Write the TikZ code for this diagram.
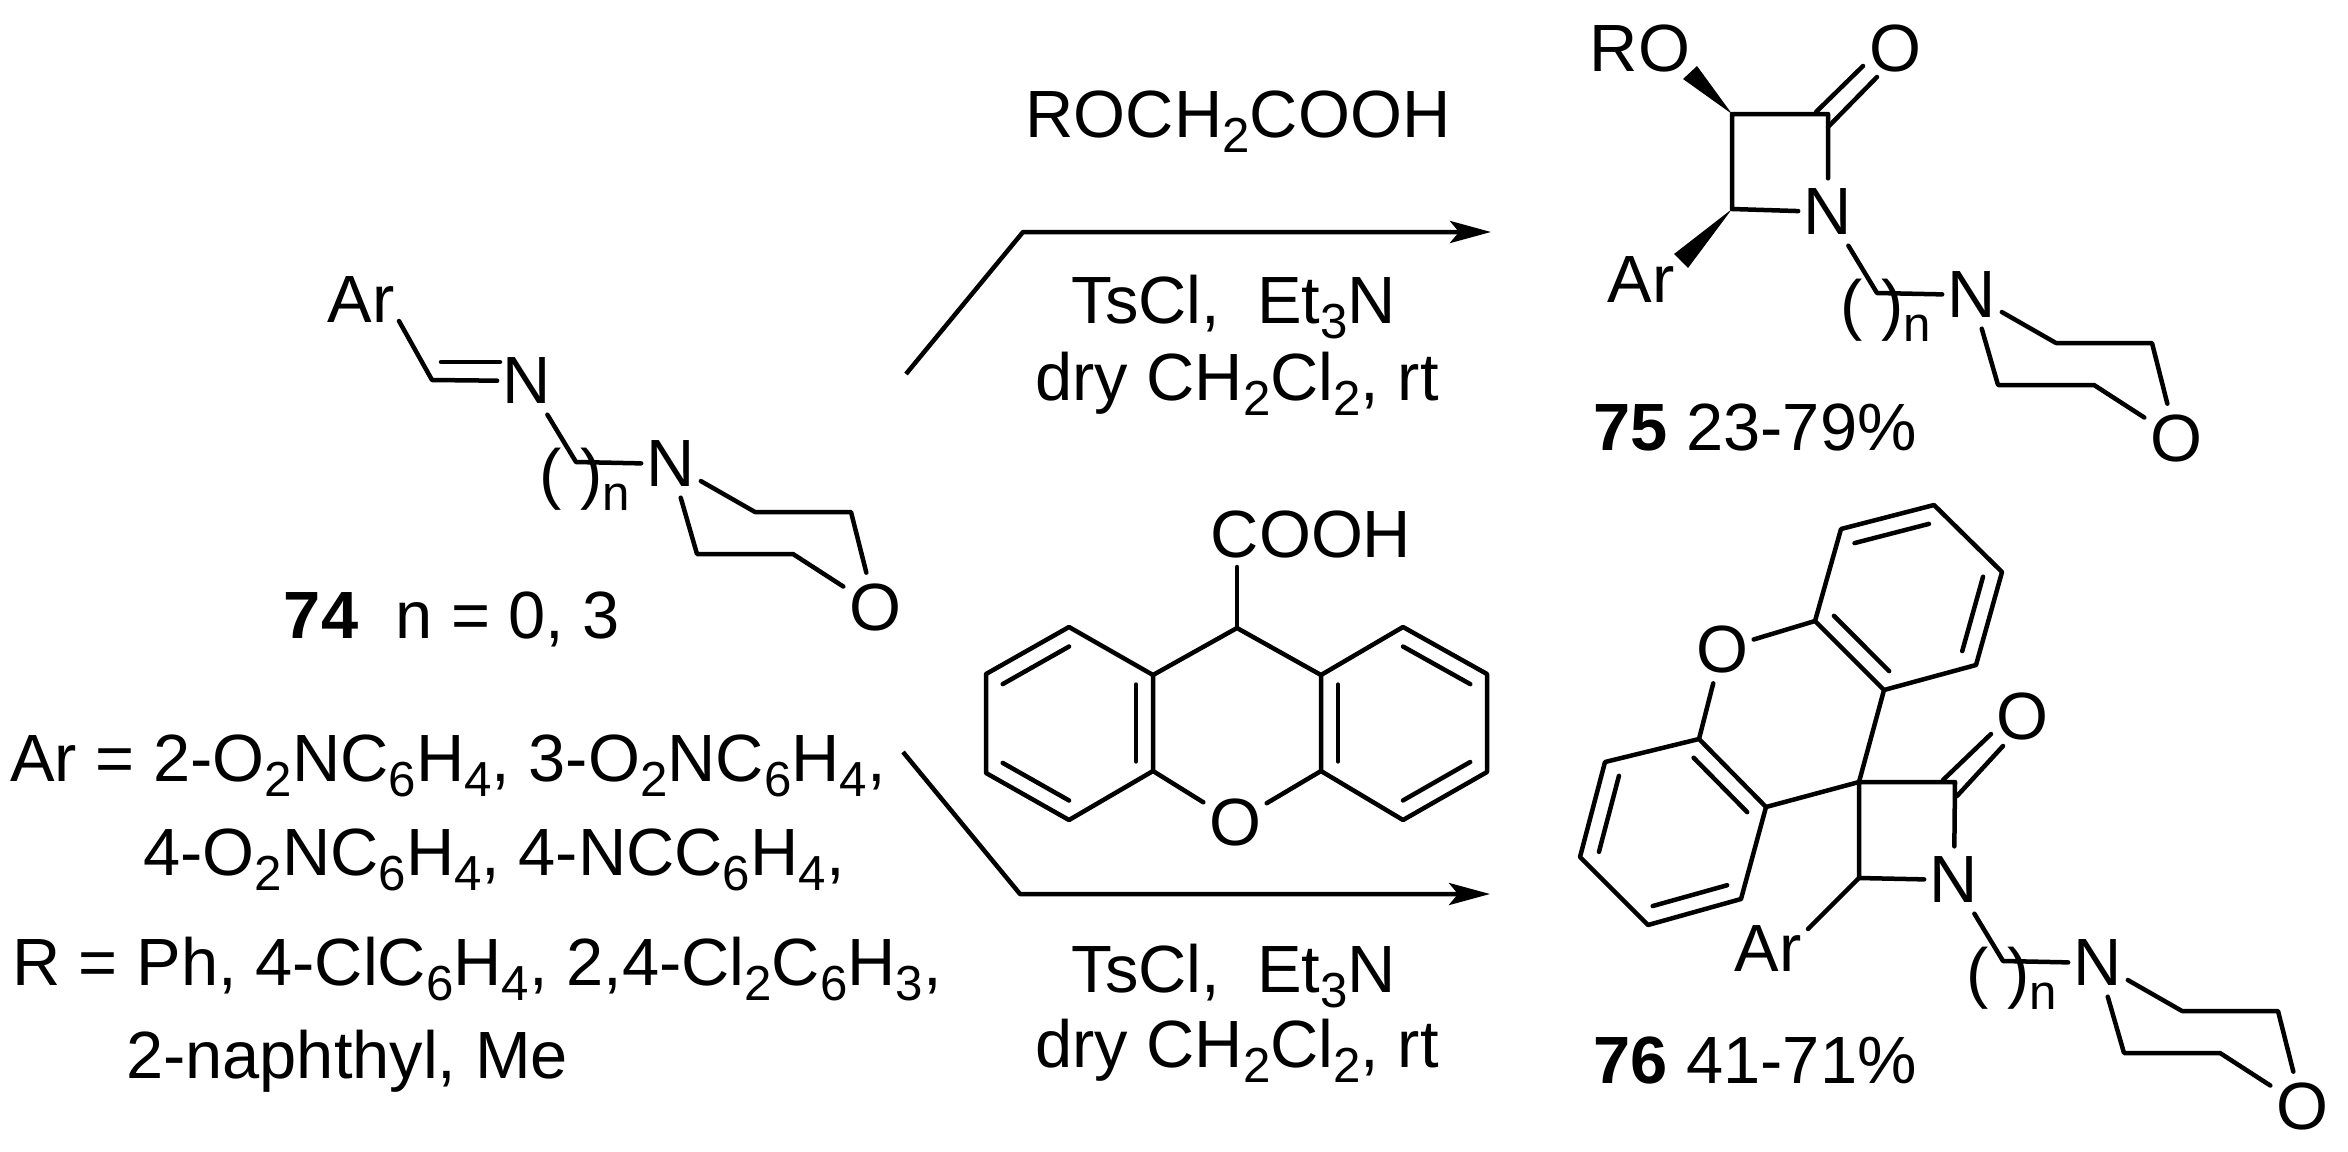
\documentclass[tikz,border=0pt]{standalone}
\usepackage{fontspec}
\setmainfont{Liberation Sans}
\usetikzlibrary{arrows.meta, calc}

\newcommand{\sbs}[1]{\raisebox{-0.15cm}{\fontsize{14}{16}\selectfont #1}}
% inner line of a double bond, on the right of a -> b
\newcommand{\dbl}[2]{\draw[bond] ($(#1)!.1!(#2)!.17cm!-90:(#2)$) -- ($(#2)!.1!(#1)!.17cm!90:(#1)$);}

\tikzset{
  chem/.style={font=\fontsize{19}{22}\selectfont, inner sep=0pt},
  atom/.style={chem, inner xsep=0.05cm, inner ysep=0.1cm},
  lab/.style={chem, anchor=base},
  bond/.style={line width=0.045cm, line cap=round, line join=round},
  rxn/.style={line width=0.045cm, line join=round, -{Stealth[length=0.41cm, width=0.22cm, inset=0.09cm]}},
  tail/.pic={
    \node[atom] (-n1) at (-144,-83) {N};
    \node[atom] (-n2) at (0,0) {N};
    \node[atom] (-o) at (204,143) {O};
    \coordinate (-c) at (-95,-2);
    \coordinate (-m1) at (84,48);
    \coordinate (-m2) at (180,48);
    \coordinate (-m3) at (26,90);
    \coordinate (-m4) at (122,90);
    \draw[bond] (-n1) -- (-c) -- (-n2);
    \draw[bond] (-n2) -- (-m1) -- (-m2) -- (-o); % upper arm
    \draw[bond] (-n2) -- (-m3) -- (-m4) -- (-o); % lower arm
    \node[chem] (-pl) at (-120,15) {(};
    \node[chem] (-pr) at (-79,15) {)};
    \node[lab, font=\fontsize{14}{16}\selectfont] (-idx) at (-55,46) {n};
  }
}

\begin{document}
\begin{tikzpicture}[x=0.01cm, y=-0.01cm]
  \useasboundingbox (0,0) rectangle (2348,1151);

  % Imine 74
  \pic (t74) at (671,464) {tail};
  \node[chem] (ar74) at (361,300) {Ar};
  \coordinate (ar74e) at (399,321);
  \coordinate (c74) at (432,380);
  \coordinate (c74a) at (441,362);
  \coordinate (c74b) at (500,362);
  \draw[bond] (ar74e) -- (c74) -- (t74-n1);
  \draw[bond] (c74a) -- (c74b);
  \node[lab] (n74) at (452,638) {\textbf{74}\ \ n = 0, 3};

  % Substituents
  \node[lab] (subA) at (448,781) {Ar = 2-O\sbs{2}NC\sbs{6}H\sbs{4}, 3-O\sbs{2}NC\sbs{6}H\sbs{4},};
  \node[lab] (subB) at (494,875) {4-O\sbs{2}NC\sbs{6}H\sbs{4}, 4-NCC\sbs{6}H\sbs{4},};
  \node[lab] (subC) at (477,985) {R = Ph, 4-ClC\sbs{6}H\sbs{4}, 2,4-Cl\sbs{2}C\sbs{6}H\sbs{3},};
  \node[lab] (subD) at (347,1078) {2-naphthyl, Me};

  % Upper arrow
  \coordinate (a1s) at (906,374);
  \coordinate (a1c) at (1023,232);
  \coordinate (a1e) at (1491,232);
  \draw[rxn] (a1s) -- (a1c) -- (a1e);
  \node[lab] (acid) at (1238,137) {ROCH\sbs{2}COOH};
  \node[lab] (rg1) at (1234,323) {TsCl,\ \ Et\sbs{3}N};
  \node[lab] (sv1) at (1237,400) {dry CH\sbs{2}Cl\sbs{2}, rt};

  % Lower arrow
  \coordinate (a2s) at (903,752);
  \coordinate (a2c) at (1020,894);
  \coordinate (a2e) at (1490,894);
  \draw[rxn] (a2s) -- (a2c) -- (a2e);
  \node[lab] (rg2) at (1234,992) {TsCl,\ \ Et\sbs{3}N};
  \node[lab] (sv2) at (1237,1067) {dry CH\sbs{2}Cl\sbs{2}, rt};

  % Xanthene acid
  \coordinate (xl1) at (986,674);
  \coordinate (xl2) at (1069,627);
  \coordinate (xl3) at (1153,675);
  \coordinate (xl4) at (1153,771);
  \coordinate (xl5) at (1069,820);
  \coordinate (xl6) at (986,773);
  \coordinate (xr1) at (1321,675);
  \coordinate (xr2) at (1403,627);
  \coordinate (xr3) at (1487,674);
  \coordinate (xr4) at (1487,772);
  \coordinate (xr5) at (1403,820);
  \coordinate (xr6) at (1321,771);
  \coordinate (c9) at (1237,628);
  \coordinate (c9e) at (1237,567);
  \node[atom] (xo) at (1235,822) {O};
  \node[lab] (cooh) at (1311,557) {COOH};
  \draw[bond] (xl1) -- (xl2) -- (xl3) -- (xl4) -- (xl5) -- (xl6) -- cycle;
  \draw[bond] (xr1) -- (xr2) -- (xr3) -- (xr4) -- (xr5) -- (xr6) -- cycle;
  \draw[bond] (xl3) -- (c9) -- (xr1);
  \draw[bond] (xl4) -- (xo) -- (xr6);
  \draw[bond] (c9) -- (c9e);
  \dbl{xl1}{xl2} \dbl{xl3}{xl4} \dbl{xl5}{xl6}
  \dbl{xr2}{xr3} \dbl{xr4}{xr5} \dbl{xr6}{xr1}

  % Lactam 75
  \pic (t75) at (1972,295) {tail};
  \coordinate (c2a) at (1828,114);
  \coordinate (c3a) at (1732,114);
  \coordinate (c4a) at (1732,209);
  \draw[bond] (t75-n1) -- (c2a) -- (c3a) -- (c4a) -- (t75-n1);
  \node[atom] (o75) at (1895,48) {O};
  \coordinate (co1) at (1816,112);
  \coordinate (co2) at (1863,66);
  \coordinate (co3) at (1828,127);
  \coordinate (co4) at (1877,77);
  \draw[bond] (co1) -- (co2);
  \draw[bond] (co3) -- (co4);
  \node[chem] (ro75) at (1640,48) {RO};
  \coordinate (w1) at (1697,66);
  \coordinate (w2) at (1683,79);
  \fill (c3a) -- (w1) -- (w2) -- cycle; % wedge to RO
  \node[chem] (ar75) at (1641,280) {Ar};
  \coordinate (w3) at (1674,254);
  \coordinate (w4) at (1688,268);
  \fill (c4a) -- (w3) -- (w4) -- cycle; % wedge to Ar
  \node[lab] (n75) at (1755,450) {\textbf{75} 23-79\%};

  % Spiro lactam 76
  \pic (t76) at (2098,963) {tail};
  \coordinate (c2b) at (1955,782);
  \coordinate (sp) at (1859,782);
  \coordinate (c4b) at (1859,878);
  \draw[bond] (t76-n1) -- (c2b) -- (sp) -- (c4b) -- (t76-n1);
  \node[atom] (o76) at (2022,716) {O};
  \coordinate (co5) at (1943,780);
  \coordinate (co6) at (1991,734);
  \coordinate (co7) at (1957,796);
  \coordinate (co8) at (2003,746);
  \draw[bond] (co5) -- (co6);
  \draw[bond] (co7) -- (co8);
  \node[chem] (ar76) at (1768,948) {Ar};
  \coordinate (ar76e) at (1808,929);
  \draw[bond] (c4b) -- (ar76e);
  \coordinate (s1) at (1841,529);
  \coordinate (s2) at (1934,505);
  \coordinate (s3) at (2002,572);
  \coordinate (s4) at (1976,665);
  \coordinate (s5) at (1884,690);
  \coordinate (s6) at (1815,621);
  \coordinate (u1) at (1699,739);
  \coordinate (u2) at (1766,807);
  \coordinate (u3) at (1741,899);
  \coordinate (u4) at (1648,925);
  \coordinate (u5) at (1580,857);
  \coordinate (u6) at (1605,762);
  \node[atom] (so) at (1722,649) {O};
  \draw[bond] (s1) -- (s2) -- (s3) -- (s4) -- (s5) -- (s6) -- cycle;
  \draw[bond] (u1) -- (u2) -- (u3) -- (u4) -- (u5) -- (u6) -- cycle;
  \draw[bond] (s5) -- (sp) -- (u2);
  \draw[bond] (s6) -- (so) -- (u1);
  \dbl{s1}{s2} \dbl{s3}{s4} \dbl{s5}{s6}
  \dbl{u1}{u2} \dbl{u3}{u4} \dbl{u5}{u6}
  \node[lab] (n76) at (1755,1083) {\textbf{76} 41-71\%};

\end{tikzpicture}
\end{document}
